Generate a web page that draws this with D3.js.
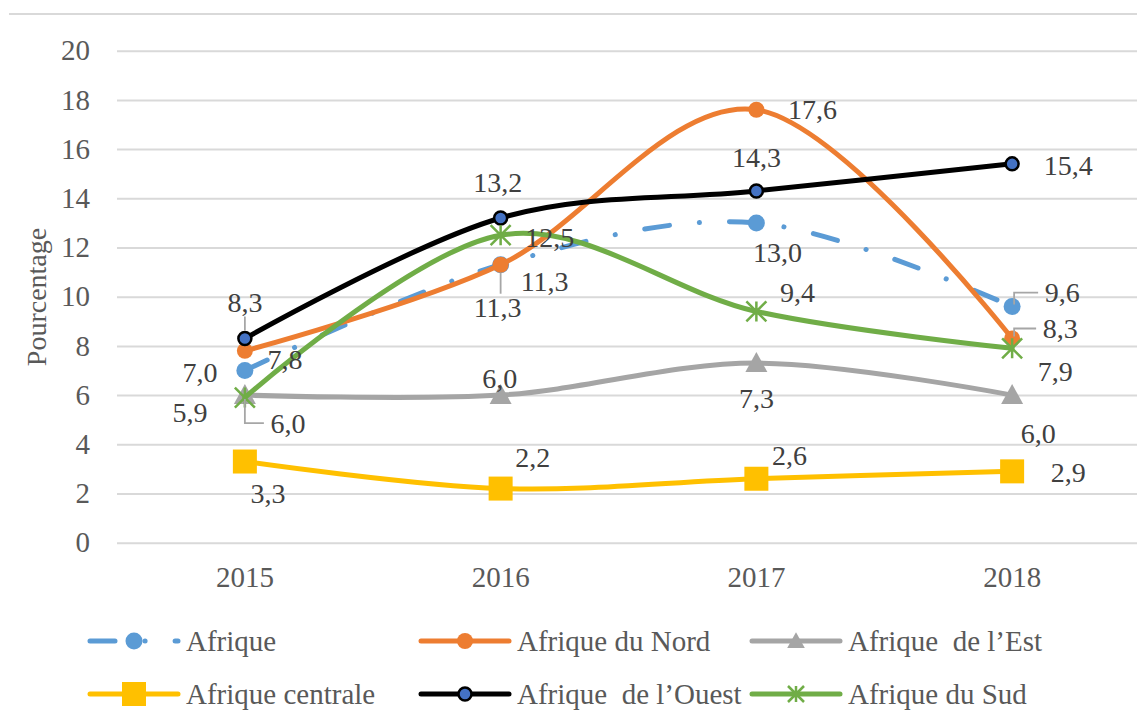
<!DOCTYPE html>
<html>
<head>
<meta charset="utf-8">
<script src="https://cdn.jsdelivr.net/npm/d3@7"></script>
<style>
  body { margin: 0; background: #fff; }
</style>
</head>
<body>
<svg id="chart" width="1137" height="727"></svg>
<script>
// data
const years = ["2015", "2016", "2017", "2018"];
const afrique = [7.0, 11.3, 13.0, 9.6];
const afriqueNord = [7.8, 11.3, 17.6, 8.3];
const afriqueEst = [6.0, 6.0, 7.3, 6.0];
const afriqueCentrale = [3.3, 2.2, 2.6, 2.9];
const afriqueOuest = [8.3, 13.2, 14.3, 15.4];
const afriqueSud = [5.9, 12.5, 9.4, 7.9];
const seriesNames = ["Afrique", "Afrique du Nord", "Afrique  de l\u2019Est",
  "Afrique centrale", "Afrique  de l\u2019Ouest", "Afrique du Sud"];
const yTicks = [0, 2, 4, 6, 8, 10, 12, 14, 16, 18, 20];
const yTitle = "Pourcentage";

const FONT = "'Liberation Serif'";

// style per series (same order as seriesNames)
const styles = [
  { color: "#5B9BD5", marker: "circle", size: 8.5, dash: "25 30 0.1 30" },
  { color: "#ED7D31", marker: "circle", size: 8 },
  { color: "#A5A5A5", marker: "triangle", size: 11 },
  { color: "#FFC000", marker: "square", size: 12 },
  { color: "#000000", marker: "dot", size: 6.5 },
  { color: "#70AD47", marker: "star", size: 10 }
];

// label offsets from the point (text centre), plus optional leader type
const labelPos = [
  [[-45, 2], [-3, 43, "v"], [21, 30], [50, -14, "elbow"]],
  [[40, 9], [44, 17], [56, 0], [48, -10, "elbow"]],
  [[43, 28, "elbowDown"], [-1, -17], [0, 35], [26, 38]],
  [[23, 32], [32, -31], [33, -23], [56, 1]],
  [[0, -36, "v"], [-3, -35], [0, -33], [56, 2]],
  [[-55, 15], [49, 2], [41, -19], [43, 23]]
];

const allSeries = [afrique, afriqueNord, afriqueEst, afriqueCentrale, afriqueOuest, afriqueSud];

const svg = d3.select("#chart");

const x = d3.scaleBand().domain(years).range([117, 1140]);
const cx = (d) => x(d) + x.bandwidth() / 2;
const y = d3.scaleLinear().domain([0, 20]).range([542.7, 50.7]);

// top border
svg.append("line")
  .attr("x1", 9).attr("x2", 1137).attr("y1", 14).attr("y2", 14)
  .attr("stroke", "#d9d9d9").attr("stroke-width", 2);

// y axis with gridlines
const yAxis = d3.axisLeft(y).tickValues(yTicks).tickSize(-1023).tickPadding(27);
const gy = svg.append("g").attr("transform", "translate(117,0)").call(yAxis)
  .attr("font-family", FONT);
gy.select(".domain").remove();
gy.selectAll(".tick line").attr("stroke", "#d9d9d9").attr("stroke-width", 2);
gy.selectAll(".tick text")
  .attr("fill", "#595959")
  .style("font-family", FONT).style("font-size", "29px");

// x axis
const xAxis = d3.axisBottom(x).tickSize(0).tickPadding(24);
const gx = svg.append("g").attr("transform", "translate(0,542.7)").call(xAxis)
  .attr("font-family", FONT);
gx.select(".domain").remove();
gx.selectAll(".tick text")
  .attr("fill", "#595959")
  .style("font-family", FONT).style("font-size", "29px");

// y title
svg.append("text")
  .attr("transform", "translate(36,297) rotate(-90)")
  .attr("text-anchor", "middle").attr("dominant-baseline", "central")
  .attr("fill", "#595959")
  .style("font-family", FONT).style("font-size", "28px")
  .text(yTitle);

// markers
function drawMarker(g, st, px, py, scale) {
  const s = st.size * (scale || 1);
  if (st.marker === "circle") {
    g.append("circle").attr("cx", px).attr("cy", py).attr("r", s).attr("fill", st.color);
  } else if (st.marker === "dot") {
    g.append("circle").attr("cx", px).attr("cy", py).attr("r", s)
      .attr("fill", "#4472C4").attr("stroke", "#000").attr("stroke-width", 2.5);
  } else if (st.marker === "square") {
    g.append("rect").attr("x", px - s).attr("y", py - s)
      .attr("width", 2 * s).attr("height", 2 * s).attr("fill", st.color);
  } else if (st.marker === "triangle") {
    g.append("path")
      .attr("d", `M${px},${py - s}L${px + s},${py + s * 0.8}L${px - s},${py + s * 0.8}Z`)
      .attr("fill", st.color);
  } else if (st.marker === "star") {
    g.append("path")
      .attr("d", `M${px - s},${py - s}L${px + s},${py + s}M${px + s},${py - s}L${px - s},${py + s}M${px},${py - s}L${px},${py + s}`)
      .attr("stroke", st.color).attr("stroke-width", 2.5).attr("fill", "none");
  }
}

const line = d3.line()
  .x((d, i) => cx(years[i]))
  .y((d) => y(d))
  .curve(d3.curveCardinal.tension(0));

const plot = svg.append("g");
allSeries.forEach((vals, si) => {
  const st = styles[si];
  const g = plot.append("g");
  g.append("path")
    .datum(vals)
    .attr("d", line)
    .attr("fill", "none")
    .attr("stroke", st.color)
    .attr("stroke-width", 5)
    .attr("stroke-linecap", "round")
    .attr("stroke-dasharray", st.dash || null);
  vals.forEach((v, i) => drawMarker(g, st, cx(years[i]), y(v)));
});

// data labels with leader lines
const labels = svg.append("g");
allSeries.forEach((vals, si) => {
  vals.forEach((v, i) => {
    const px = cx(years[i]), py = y(v);
    const [dx, dy, leader] = labelPos[si][i];
    const lx = px + dx, ly = py + dy;
    let d = null;
    if (leader === "v") d = `M${px},${py + (dy > 0 ? 8 : -8)}L${px},${ly + (dy > 0 ? -14 : 14)}`;
    if (leader === "elbow") d = `M${lx - 24},${ly}L${px + 2},${ly}L${px + 2},${py - 2}`;
    if (leader === "elbowDown") d = `M${px},${py + 4}L${px},${ly}L${lx - 24},${ly}`;
    if (d) {
      labels.append("path").attr("d", d).attr("fill", "none")
        .attr("stroke", "#a6a6a6").attr("stroke-width", 1.8);
    }
    labels.append("text")
      .attr("x", lx).attr("y", ly)
      .attr("text-anchor", "middle").attr("dominant-baseline", "central")
      .attr("fill", "#404040")
      .style("font-family", FONT).style("font-size", "28px")
      .text(d3.format(".1f")(v).replace(".", ","));
  });
});

// legend
const legendCols = [90, 421, 752];
const legendRows = [641, 694];
const legend = svg.append("g");
seriesNames.forEach((name, i) => {
  const st = styles[i];
  const lx = legendCols[i % 3], ly = legendRows[Math.floor(i / 3)];
  const g = legend.append("g");
  g.append("line")
    .attr("x1", lx).attr("x2", lx + 88).attr("y1", ly).attr("y2", ly)
    .attr("stroke", st.color).attr("stroke-width", 5)
    .attr("stroke-linecap", "round")
    .attr("stroke-dasharray", st.dash || null);
  drawMarker(g, st, lx + 44, ly, st.marker === "triangle" || st.marker === "star" ? 0.8 : 1);
  g.append("text")
    .attr("x", lx + 96).attr("y", ly)
    .attr("dominant-baseline", "central")
    .attr("fill", "#595959")
    .style("font-family", FONT).style("font-size", "29px")
    .style("white-space", "pre")
    .text(name);
});
</script>
</body>
</html>
